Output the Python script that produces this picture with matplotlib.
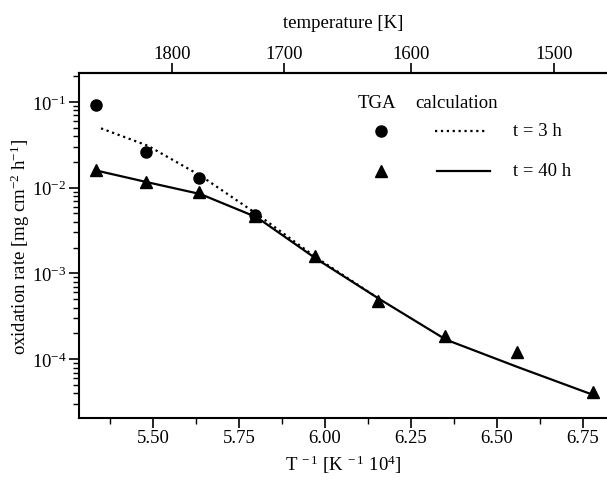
import numpy as np
import matplotlib
matplotlib.use("Agg")
import matplotlib.pyplot as plt
from matplotlib.ticker import FixedLocator, LogLocator, FuncFormatter, NullFormatter

plt.rcParams['font.family'] = ['Liberation Serif', 'DejaVu Serif']
plt.rcParams['mathtext.fontset'] = 'custom'
plt.rcParams['mathtext.rm'] = 'Liberation Serif'
plt.rcParams['mathtext.it'] = 'Liberation Serif:italic'

FS = 13.5

# measured points (TGA), x = 1e4 / T
temp_tga = [1875, 1825, 1775, 1725, 1675, 1625, 1575, 1525, 1475]
rate_tga_40h = [0.0160, 0.0117, 0.0088, 0.00471, 0.00158, 0.000481, 0.000185, 0.000122, 0.0000418]
temp_tga_3h = [1875, 1825, 1775, 1725]
rate_tga_3h = [0.0918, 0.0262, 0.0128, 0.0048]

# calculation curves
inv_calc_40h = [5.339, 5.485, 5.638, 5.802, 5.976, 6.158, 6.352, 6.561, 6.786]
rate_calc_40h = [0.0157, 0.01153, 0.00841, 0.00451, 0.00147, 0.000504, 0.000169, 0.0000809, 0.0000376]
inv_calc_3h = [5.349, 5.485, 5.638, 5.802, 5.976, 6.158]
rate_calc_3h = [0.0491, 0.0308, 0.0138, 0.00493, 0.00152, 0.000504]

top_ticks = [1800, 1700, 1600, 1500]
bottom_ticks = [5.50, 5.75, 6.00, 6.25, 6.50, 6.75]

fig = plt.figure(figsize=(6.07, 4.85), dpi=100)
ax = fig.add_axes([79 / 607, 1 - 419 / 485, 1 - 79 / 607, (419 - 74) / 485])

inv_tga = [1e4 / t for t in temp_tga]
inv_tga_3h = [1e4 / t for t in temp_tga_3h]

ax.plot(inv_calc_3h, rate_calc_3h, color='black', linestyle=':', linewidth=1.6)
ax.plot(inv_calc_40h, rate_calc_40h, color='black', linestyle='-', linewidth=1.6)
ax.plot(inv_tga_3h, rate_tga_3h, 'o', color='black', markersize=8)
ax.plot(inv_tga, rate_tga_40h, '^', color='black', markersize=8.5)

ax.set_yscale('log')
ax.set_xlim(5.285, 6.82)
ax.set_ylim(10 ** -4.685, 10 ** -0.664)

ax.xaxis.set_major_locator(FixedLocator(bottom_ticks))
ax.xaxis.set_minor_locator(FixedLocator(np.arange(5.375, 6.9, 0.25)))
ax.xaxis.set_major_formatter(FuncFormatter(lambda v, p: f"{v:.2f}"))
ax.yaxis.set_major_locator(LogLocator(base=10, numticks=10))
ax.yaxis.set_minor_locator(LogLocator(base=10, subs=np.arange(2, 10), numticks=10))
ax.yaxis.set_minor_formatter(NullFormatter())
ax.yaxis.set_major_formatter(FuncFormatter(lambda v, p: f"10$^{{-{int(round(-np.log10(v)))}}}$"))

ax.tick_params(axis='both', which='major', direction='out', length=7, width=1.2, labelsize=FS)
ax.tick_params(axis='both', which='minor', direction='out', length=4, width=1.0)
ax.tick_params(axis='x', pad=1)
ax.tick_params(axis='y', pad=2)
ax.spines['right'].set_visible(False)
for s in ['left', 'bottom', 'top']:
    ax.spines[s].set_linewidth(1.5)

ax.set_xlabel("T$^{\\ -1}$ [K$^{\\ -1}$ 10$^{4}$]", fontsize=FS, labelpad=5)
ax.set_ylabel("oxidation rate [mg cm$^{-2}$ h$^{-1}$]", fontsize=FS, labelpad=0)

sec = ax.secondary_xaxis('top', functions=(lambda x: 1e4 / x, lambda t: 1e4 / t))
sec.xaxis.set_major_locator(FixedLocator(top_ticks))
sec.xaxis.set_minor_locator(FixedLocator([]))
sec.tick_params(axis='x', direction='out', length=7, width=1.2, labelsize=FS, pad=1)
sec.spines['top'].set_linewidth(1.5)
sec.set_xlabel("temperature [K]", fontsize=FS, labelpad=13)

# legend drawn by hand
ax.text(377 / 607, 1 - 103 / 485, "TGA", transform=fig.transFigure, ha='center', va='center', fontsize=FS)
ax.text(457 / 607, 1 - 103 / 485, "calculation", transform=fig.transFigure, ha='center', va='center', fontsize=FS)
fig.lines.append(plt.Line2D([381 / 607], [1 - 132 / 485], marker='o', color='black', markersize=8,
                            linestyle='none', transform=fig.transFigure))
fig.lines.append(plt.Line2D([381 / 607], [1 - 172 / 485], marker='^', color='black', markersize=8.5,
                            linestyle='none', transform=fig.transFigure))
fig.lines.append(plt.Line2D([435 / 607, 487 / 607], [1 - 132 / 485] * 2, color='black', linestyle=':',
                            linewidth=1.6, transform=fig.transFigure))
fig.lines.append(plt.Line2D([437 / 607, 490 / 607], [1 - 172 / 485] * 2, color='black', linestyle='-',
                            linewidth=1.6, transform=fig.transFigure))
ax.text(513 / 607, 1 - 132 / 485, "t = 3 h", transform=fig.transFigure, ha='left', va='center', fontsize=FS)
ax.text(513 / 607, 1 - 172 / 485, "t = 40 h", transform=fig.transFigure, ha='left', va='center', fontsize=FS)

fig.savefig("out.png", dpi=100)
